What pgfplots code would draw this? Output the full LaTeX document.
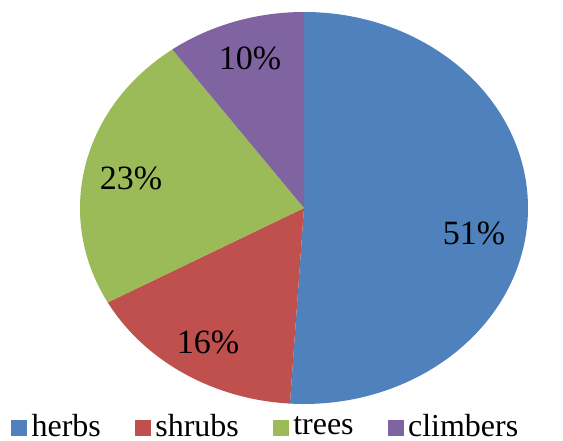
\documentclass[border=0pt]{standalone}
\usepackage{pgfplots}
\pgfplotsset{compat=1.18}
\usepackage{fontspec}
\setmainfont{Liberation Serif}
\definecolor{cHerbs}{HTML}{4F81BD}
\definecolor{cShrubs}{HTML}{C0504D}
\definecolor{cTrees}{HTML}{9BBB59}
\definecolor{cClimbers}{HTML}{8064A2}
% shares (percent)
\def\vHerbs{51}
\def\vShrubs{16}
\def\vTrees{23}
\def\vClimbers{10}
\begin{document}
\begin{tikzpicture}
\begin{axis}[
  width=563pt, height=441pt, scale only axis,
  xmin=0, xmax=563, ymin=0, ymax=441,
  hide axis, clip=false,
  legend columns=4,
  legend style={draw=none, fill=none, at={(axis cs:11,15)}, anchor=west,
    font=\fontsize{32}{32}\selectfont, inner sep=0pt,
    nodes={inner sep=0pt},
    /tikz/every odd column/.append style={column sep=5pt},
    /tikz/every even column/.append style={column sep=34pt}},
  legend cell align=left,
  legend image code/.code={\fill[#1] (0pt,-9pt) rectangle (15pt,6pt);},
]
\pgfmathsetmacro{\aA}{90}
\pgfmathsetmacro{\aB}{90-3.6*\vHerbs}
\pgfmathsetmacro{\aC}{\aB-3.6*\vShrubs}
\pgfmathsetmacro{\aD}{\aC-3.6*\vTrees}
\pgfmathsetmacro{\aE}{\aD-3.6*\vClimbers}
\edef\slices{%
\noexpand\fill[cHerbs] (axis cs:304,233) -- ++(\aA:224pt and 196pt) arc[start angle=\aA, end angle=\aB, x radius=224pt, y radius=196pt] -- cycle;
\noexpand\fill[cShrubs] (axis cs:304,233) -- ++(\aB:224pt and 196pt) arc[start angle=\aB, end angle=\aC, x radius=224pt, y radius=196pt] -- cycle;
\noexpand\fill[cTrees] (axis cs:304,233) -- ++(\aC:224pt and 196pt) arc[start angle=\aC, end angle=\aD, x radius=224pt, y radius=196pt] -- cycle;
\noexpand\fill[cClimbers] (axis cs:304,233) -- ++(\aD:224pt and 196pt) arc[start angle=\aD, end angle=\aE, x radius=224pt, y radius=196pt] -- cycle;
}
\slices
\addlegendimage{cHerbs}\addlegendentry{herbs}
\addlegendimage{cShrubs}\addlegendentry{shrubs}
\addlegendimage{cTrees}\addlegendentry{trees}
\addlegendimage{cClimbers}\addlegendentry{climbers}
\begin{scope}[every node/.style={font=\fontsize{34}{34}\selectfont}]
\node at (axis cs:474,208) {\vHerbs\%};
\node at (axis cs:208,99) {\vShrubs\%};
\node at (axis cs:131,263) {\vTrees\%};
\node at (axis cs:250,383) {\vClimbers\%};
\end{scope}
\end{axis}
\pgfresetboundingbox
\path (current axis.south west) rectangle (current axis.north east);
\end{tikzpicture}
\end{document}
